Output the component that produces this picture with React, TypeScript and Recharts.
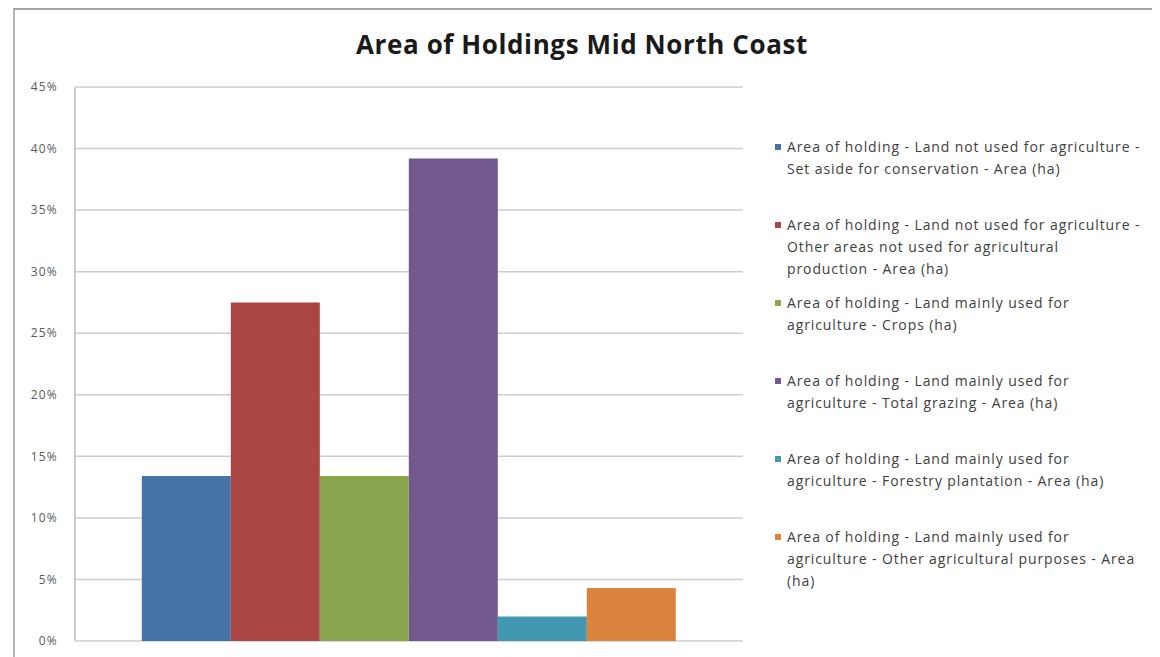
import React from 'react';
import { BarChart, Bar, XAxis, YAxis, CartesianGrid, Legend } from 'recharts';

const categories = ['Mid North Coast'];

// legend text keeps the line breaks of the original series labels
const seriesNames = [
  'Area of holding - Land not used for agriculture -\nSet aside for conservation - Area (ha)',
  'Area of holding - Land not used for agriculture -\nOther areas not used for agricultural\nproduction - Area (ha)',
  'Area of holding - Land mainly used for\nagriculture - Crops (ha)',
  'Area of holding - Land mainly used for\nagriculture - Total grazing - Area (ha)',
  'Area of holding - Land mainly used for\nagriculture - Forestry plantation - Area (ha)',
  'Area of holding - Land mainly used for\nagriculture - Other agricultural purposes - Area\n(ha)',
];

// share of total holding area, percent
const seriesValues = [13.4, 27.5, 13.4, 39.2, 2.0, 4.3];

const seriesColors = ['#4572a7', '#aa4643', '#89a54e', '#71588f', '#4198af', '#db843d'];

const yTicks = [0, 5, 10, 15, 20, 25, 30, 35, 40, 45];

const FONT = '"Open Sans", "Liberation Sans", sans-serif';

const data = categories.map((name) => {
  const row: Record<string, string | number> = { name };
  seriesValues.forEach((v, i) => {
    row[`s${i}`] = v;
  });
  return row;
});

const LegendList = (props: any) => {
  const items = props.payload || [];
  return (
    <div style={{ fontFamily: FONT }}>
      {items.map((entry: any, i: number) => (
        <div key={i} style={{ position: 'relative', height: 78, paddingLeft: 12 }}>
          <span
            style={{
              position: 'absolute',
              left: 0,
              top: 8,
              width: 6,
              height: 6,
              background: entry.color,
            }}
          />
          <div
            style={{
              fontSize: 14,
              letterSpacing: 0.9,
              lineHeight: '22px',
              color: '#404040',
              whiteSpace: 'pre',
            }}
          >
            {entry.value}
          </div>
        </div>
      ))}
    </div>
  );
};

export default function App() {
  return (
    <div
      style={{
        position: 'relative',
        width: 1152,
        height: 649,
        overflow: 'hidden',
        background: '#fff',
        fontFamily: FONT,
      }}
    >
      <div
        style={{
          position: 'absolute',
          left: 5,
          top: 0,
          width: 1200,
          height: 700,
          borderTop: '2px solid #a3a3a3',
          borderLeft: '2px solid #b5b5b5',
        }}
      />
      <div
        style={{
          position: 'absolute',
          left: 0,
          width: 1148,
          top: 18,
          textAlign: 'center',
          fontSize: 26,
          letterSpacing: 0.6,
          fontWeight: 700,
          color: '#1a1a1a',
        }}
      >
        Area of Holdings Mid North Coast
      </div>
      <BarChart
        width={1152}
        height={649}
        data={data}
        margin={{ top: 79, right: 417, bottom: 16, left: 17 }}
        barCategoryGap="10%"
        barGap={0}
      >
        <CartesianGrid vertical={false} stroke="#cdcdcd" strokeWidth={1.5} />
        <XAxis dataKey="name" hide />
        <YAxis
          width={50}
          domain={[0, 45]}
          ticks={yTicks}
          tickFormatter={(v: number) => `${v}%`}
          tickSize={0}
          tickMargin={17}
          axisLine={{ stroke: '#bdbdbd', strokeWidth: 1.5 }}
          tick={{ fontSize: 12, fill: '#595959', fontFamily: FONT, letterSpacing: 1.2 }}
        />
        <Legend
          layout="horizontal"
          verticalAlign="middle"
          align="center"
          itemSorter={null}
          content={<LegendList />}
          wrapperStyle={{ left: 767, top: 128, width: 385 }}
        />
        {seriesNames.map((name, i) => (
          <Bar
            key={name}
            dataKey={`s${i}`}
            name={name}
            fill={seriesColors[i]}
            isAnimationActive={false}
          />
        ))}
      </BarChart>
    </div>
  );
}
